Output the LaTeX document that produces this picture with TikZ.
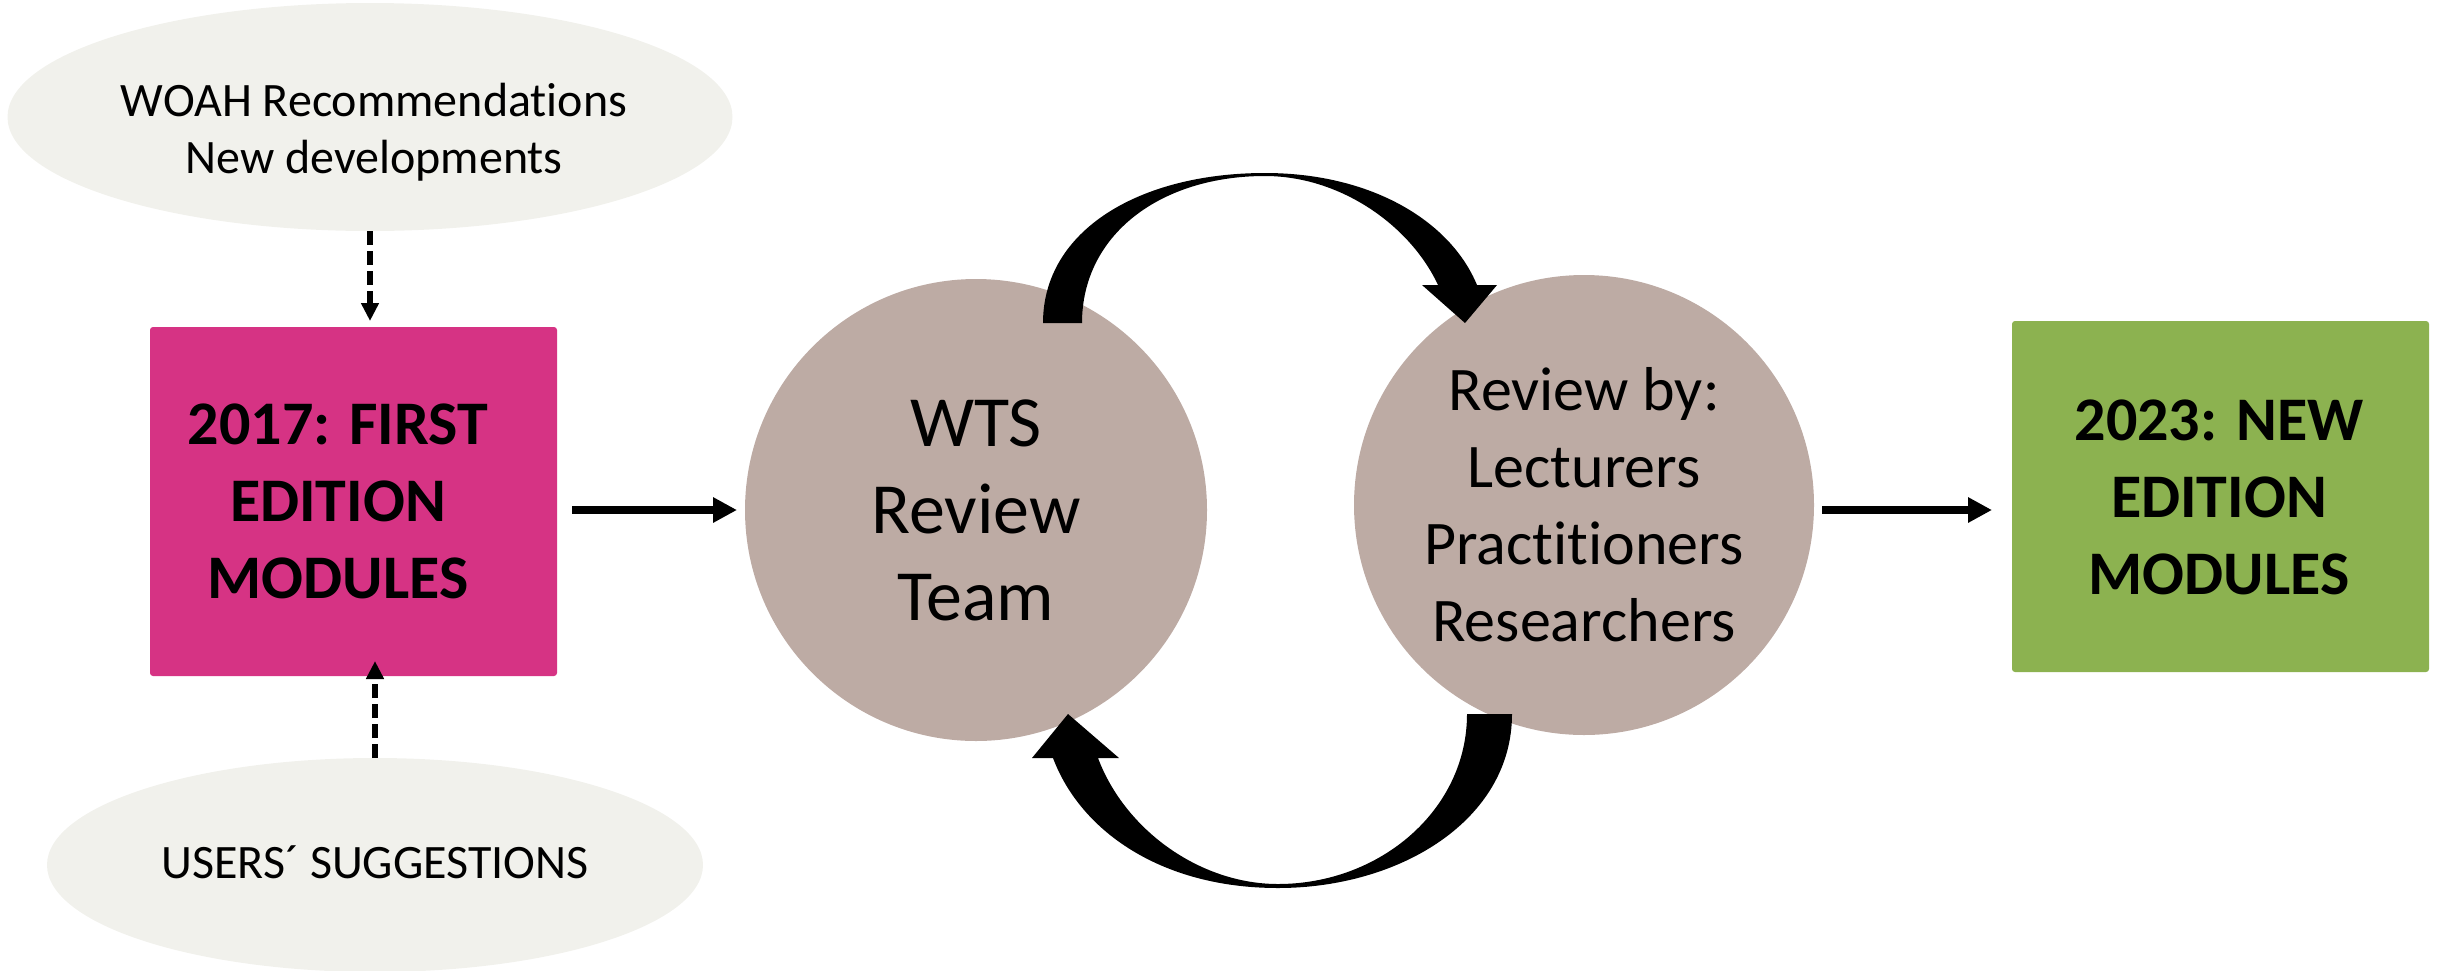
\documentclass[tikz,border=0pt]{standalone}
\usepackage{fontspec}
\setmainfont{Carlito}[Ligatures=NoCommon]
\usetikzlibrary{shapes.geometric,arrows.meta,calc}
\definecolor{pinkbox}{RGB}{214,51,132}
\definecolor{greenbox}{RGB}{140,178,80}
\definecolor{circfill}{RGB}{189,171,164}
\definecolor{ellfill}{RGB}{241,241,236}
\begin{document}
\begin{tikzpicture}[x=1pt,y=-1pt,
  every node/.style={inner sep=0pt, outer sep=0pt},
  srcell/.style={ellipse, fill=ellfill},
  modbox/.style={rectangle, rounded corners=3pt, minimum width=407pt, minimum height=349pt},
  revcirc/.style={circle, fill=circfill, minimum size=462pt},
  smalltxt/.style={font=\fontsize{48}{57}\selectfont, align=center},
  boldtxt/.style={font=\fontsize{62}{77}\selectfont\bfseries, align=center},
  flowarrow/.style={line width=8pt, -{Triangle[length=24pt,width=24pt]}},
  dasharrow/.style={line width=6pt, dash pattern=on 14pt off 6pt, -{Triangle[length=18pt,width=17pt]}},
  bigarrow/.style={fill=black}
]
\useasboundingbox (0,0) rectangle (2440,970);

% source ellipses
\node[srcell, minimum width=725pt, minimum height=228pt] (woah) at (370,117) {};
\node[smalltxt] (woahtxt) at (374,132) {WOAH Recommendations\\New developments};
\node[srcell, minimum width=656pt, minimum height=214pt] (users) at (375,865) {};
\node[smalltxt] (userstxt) at (375,862) {USERS´ SUGGESTIONS};

% module boxes
\node[modbox, fill=pinkbox] (first) at (353.5,501.5) {};
\node[boldtxt] (firsttxt) at (338,501) {2017: FIRST\\EDITION\\MODULES};
\node[modbox, fill=greenbox, minimum width=417pt, minimum height=351pt] (new) at (2220.5,496.5) {};
\node[boldtxt] (newtxt) at (2219,497) {2023: NEW\\EDITION\\MODULES};

% review circles
\node[revcirc, font=\fontsize{72}{87}\selectfont, align=center] (wts) at (976,510) {WTS\\Review\\Team};
\node[revcirc, minimum size=460pt, font=\fontsize{62}{77}\selectfont, align=center] (rev) at (1584,505) {Review by:\\Lecturers\\Practitioners\\Researchers};

% straight connectors
\draw[flowarrow, shorten <=15pt, shorten >=8pt] (first.east |- wts.center) -- (wts.west);
\draw[flowarrow, shorten <=8pt, shorten >=20pt] (rev.east |- wts.center) -- (new.west |- wts.center);
\draw[dasharrow, shorten >=6pt] (woah.south) -- (woah.south |- first.north);
\draw[dasharrow] (users.north) -- ($(users.north |- first.south)+(0,-15)$);

% curved block arrows between the circles
\fill[bigarrow] (1043,323) .. controls (1043,230) and (1140,173) .. (1265,173)
  .. controls (1370,173) and (1450,220) .. (1477,285)
  -- (1497,285) -- (1465,323) -- (1422,285) -- (1438,285)
  .. controls (1410,225) and (1340,176) .. (1265,176)
  .. controls (1160,176) and (1082,235) .. (1082,323) -- cycle;
\fill[bigarrow] (1512,714) .. controls (1512,820) and (1400,888) .. (1278,888)
  .. controls (1160,888) and (1080,830) .. (1053,758)
  -- (1032,758) -- (1068,714) -- (1119,758) -- (1098,758)
  .. controls (1125,830) and (1200,884) .. (1278,884)
  .. controls (1380,884) and (1467,810) .. (1467,714) -- cycle;
\end{tikzpicture}
\end{document}
